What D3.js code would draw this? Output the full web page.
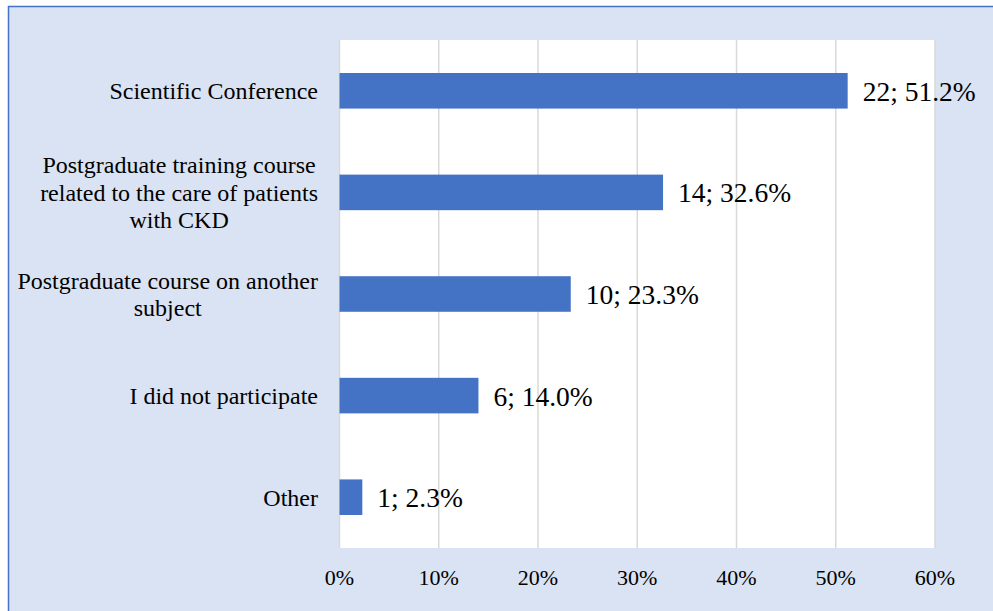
<!DOCTYPE html>
<html><head><meta charset="utf-8">
<script src="https://cdn.jsdelivr.net/npm/d3@7"></script>
<style>html,body{margin:0;padding:0;background:#fff;overflow:hidden}svg{display:block}
svg text{font-family:"Liberation Serif",LiberationSerif,"Noto Serif","Nimbus Roman","Nimbus Roman No9 L",FreeSerif,Times,"DejaVu Serif","Droid Serif",serif}</style>
</head><body>
<svg id="c" width="993" height="611"></svg>
<script>
const categories = [
  ["Scientific Conference"],
  ["Postgraduate training course", "related to the care of patients", "with CKD"],
  ["Postgraduate course on another", "subject"],
  ["I did not participate"],
  ["Other"]
];
const counts = [22, 14, 10, 6, 1];
const percents = [51.2, 32.6, 23.3, 14.0, 2.3];
const ticks = [0, 10, 20, 30, 40, 50, 60];

(function () {
const svg = d3.select("#c");
svg.append("rect").attr("x", 8.5).attr("y", 6.5).attr("width", 1100).attr("height", 800)
  .attr("fill", "#dae3f3").attr("stroke", "#4472c4").attr("stroke-width", 1.5);

const pL = 339.5, pR = 935, pT = 40, pB = 548;
svg.append("rect").attr("x", pL).attr("y", pT).attr("width", pR - pL).attr("height", pB - pT).attr("fill", "#fff");

const x = d3.scaleLinear().domain([0, 60]).range([pL, pR]);
const y = d3.scaleBand().domain(d3.range(categories.length)).range([pT, pB]).paddingInner(0.65).paddingOuter(0.325);

svg.append("g").selectAll("line").data(ticks).join("line")
  .attr("x1", d => x(d)).attr("x2", d => x(d)).attr("y1", pT).attr("y2", pB)
  .attr("stroke", "#d9d9d9").attr("stroke-width", 1.5);

svg.append("g").selectAll("text").data(ticks).join("text")
  .attr("x", d => x(d)).attr("y", 585).attr("text-anchor", "middle")
  .attr("font-size", 22).attr("fill", "#000")
  .text(d => d + "%");

svg.append("g").selectAll("rect").data(percents).join("rect")
  .attr("x", x(0)).attr("y", (d, i) => y(i)).attr("width", d => x(d) - x(0)).attr("height", y.bandwidth())
  .attr("fill", "#4472c4");

svg.append("g").selectAll("text").data(percents).join("text")
  .attr("x", d => x(d) + 15).attr("y", (d, i) => y(i) + y.bandwidth() / 2).attr("dy", "0.36em")
  .attr("font-size", 27.5).attr("fill", "#000")
  .text((d, i) => counts[i] + "; " + d.toFixed(1) + "%");

const labelRight = 318, lh = 27.5;
categories.forEach((lines, i) => {
  const cy = y(i) + y.bandwidth() / 2;
  const g = svg.append("g");
  const ts = lines.map((ln, k) => g.append("text")
    .attr("font-size", 24).attr("fill", "#000")
    .attr("text-anchor", "middle")
    .attr("y", cy + (k - (lines.length - 1) / 2) * lh).attr("dy", "0.35em").text(ln));
  const w = d3.max(ts, t => t.node().getComputedTextLength());
  ts.forEach(t => t.attr("x", labelRight - w / 2));
});
})();
</script>
</body></html>
